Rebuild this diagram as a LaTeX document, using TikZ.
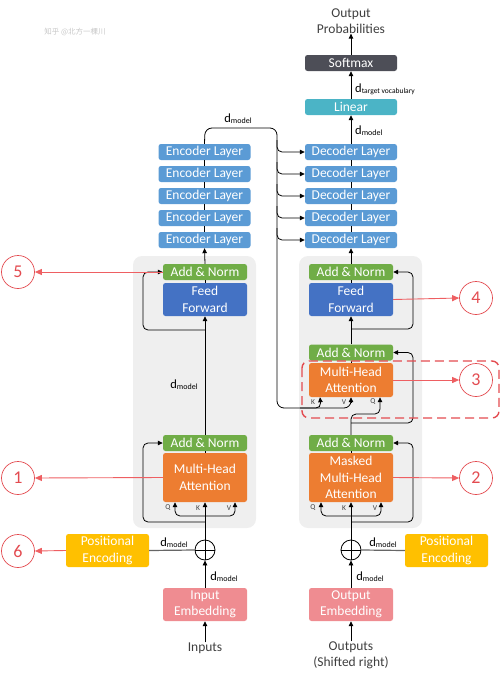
\documentclass[tikz,border=0pt]{standalone}
\usepackage{fontspec}
\setmainfont{Carlito}
\newfontfamily\cjkfont{Noto Sans CJK SC}
\usetikzlibrary{arrows.meta}
\definecolor{layerblue}{HTML}{5B9BD5}
\definecolor{addgreen}{HTML}{70AD47}
\definecolor{ffblue}{HTML}{4472C4}
\definecolor{mhaorange}{HTML}{ED7D31}
\definecolor{peyellow}{HTML}{FFC000}
\definecolor{embpink}{HTML}{EF8C91}
\definecolor{lineteal}{HTML}{4BB4C6}
\definecolor{smgray}{HTML}{4D4E57}
\definecolor{blockgray}{HTML}{EFEFEF}
\definecolor{markred}{HTML}{E34B50}
\definecolor{arrred}{HTML}{EE5F62}
\definecolor{txtgray}{HTML}{3F3F3F}
\newcommand{\dmod}{d{\fontsize{8}{9}\selectfont\raisebox{-1.3pt}{model}}}
\begin{document}
\begin{tikzpicture}[x=1pt,y=-1pt,
  box/.style={rounded corners=2.5pt, inner sep=0pt, text=white, font=\fontsize{13.5}{16.5}\selectfont, align=center},
  lay/.style={box, fill=layerblue, minimum width=92pt, minimum height=16pt},
  addn/.style={box, fill=addgreen, minimum width=84pt, minimum height=16pt},
  ffb/.style={box, fill=ffblue, minimum width=84pt, minimum height=33pt},
  mha/.style={box, fill=mhaorange, minimum width=84pt},
  peb/.style={box, fill=peyellow, minimum width=83pt, minimum height=33pt},
  emb/.style={box, fill=embpink, minimum width=84pt, minimum height=33pt},
  ln/.style={line width=0.8pt, black},
  arr/.style={ln, -{Triangle[length=5pt,width=4.5pt]}},
  redarr/.style={line width=0.9pt, arrred, -{Triangle[length=7pt,width=6pt]}},
  num/.style={circle, draw=markred, line width=0.7pt, minimum size=33pt, inner sep=0pt, text=markred, font=\fontsize{18}{19}\selectfont},
  lbl/.style={inner sep=0pt, font=\fontsize{12.5}{13}\selectfont, text=black},
  qkv/.style={inner sep=0pt, font=\fontsize{7.5}{8}\selectfont, text=txtgray},
  plain/.style={inner sep=0pt, font=\fontsize{13.5}{16}\selectfont, text=txtgray, align=center}
]
\useasboundingbox (0,0) rectangle (501,680);

% watermark
\node[inner sep=0pt, text=black!22, font=\cjkfont\fontsize{7.5}{8}\selectfont] (wm) at (75,32) {知乎 @北方一棵川};

% grey blocks
\fill[blockgray, rounded corners=9pt] (133,256) rectangle (256,528);
\fill[blockgray, rounded corners=9pt] (299,256) rectangle (422,528);

% ---------- encoder stack ----------
\node[lay] (e1) at (204.5,152) {Encoder Layer};
\node[lay] (e2) at (204.5,174) {Encoder Layer};
\node[lay] (e3) at (204.5,196) {Encoder Layer};
\node[lay] (e4) at (204.5,218) {Encoder Layer};
\node[lay] (e5) at (204.5,240) {Encoder Layer};
\draw[ln] (e2.north) -- (e1.south);
\draw[ln] (e3.north) -- (e2.south);
\draw[ln] (e4.north) -- (e3.south);
\draw[ln] (e5.north) -- (e4.south);

% ---------- decoder stack ----------
\node[lay] (d1) at (351,152) {Decoder Layer};
\node[lay] (d2) at (351,174) {Decoder Layer};
\node[lay] (d3) at (351,196) {Decoder Layer};
\node[lay] (d4) at (351,218) {Decoder Layer};
\node[lay] (d5) at (351,240) {Decoder Layer};
\draw[ln] (d2.north) -- (d1.south);
\draw[ln] (d3.north) -- (d2.south);
\draw[ln] (d4.north) -- (d3.south);
\draw[ln] (d5.north) -- (d4.south);

% ---------- top ----------
\node[box, fill=lineteal, minimum width=92pt, minimum height=16pt] (lin) at (351,107) {Linear};
\node[box, fill=smgray, minimum width=92pt, minimum height=16pt] (sm) at (351,63) {Softmax};
\node[plain] (outp) at (351,21) {Output\\Probabilities};
\draw[arr] (d1.north) -- (lin.south);
\draw[arr] (lin.north) -- (sm.south);
\draw[arr] (sm.north) -- (outp.south);
\node[lbl, anchor=west] (ldm1) at (355,131) {\dmod};
\node[lbl, anchor=west] (ldtv) at (355,89) {d{\fontsize{7.5}{8}\selectfont\raisebox{-1.3pt}{target vocabulary}}};

% ---------- encoder block ----------
\node[addn] (ean1) at (205,272) {Add \& Norm};
\node[ffb] (eff) at (205,299.5) {Feed\\Forward};
\node[addn] (ean2) at (205,443) {Add \& Norm};
\node[mha, minimum height=49pt] (emha) at (205,477.5) {Multi-Head\\Attention};
\draw[ln] (eff.north) -- (ean1.south);
\draw[ln] (emha.north) -- (ean2.south);
\draw[arr] (ean2.north) -- (eff.south);
\draw[arr] (ean1.north) -- (e5.south);
\draw[arr, rounded corners=5pt] (205,330) -- (143,330) -- (143,272) -- (ean1.west);
\node[lbl] (ldm2) at (184,385) {\dmod};

% encoder input
\node[circle, draw, line width=0.8pt, minimum size=20pt, inner sep=0pt] (eplus) at (205,550) {};
\draw[ln] (eplus.north) -- (eplus.south) (eplus.west) -- (eplus.east);
\node[emb] (eemb) at (205,604.5) {Input\\Embedding};
\node[peb] (epe) at (107.5,550.5) {Positional\\Encoding};
\node[plain] (inp) at (205,648) {Inputs};
\draw[arr] (inp.north) -- (eemb.south);
\draw[arr] (eemb.north) -- (eplus.south);
\draw[line width=1.2pt, black!60] (epe.east) -- (eplus.west);
\node[lbl] (ldm3) at (174,543) {\dmod};
\node[lbl] (ldm4) at (224,577) {\dmod};
\draw[arr] (eplus.north) -- (emha.south);
\draw[arr, rounded corners=5pt] (205,516) -- (175,516) -- ([xshift=-30pt]emha.south);
\draw[arr, rounded corners=5pt] (205,516) -- (235,516) -- ([xshift=30pt]emha.south);
\draw[arr, rounded corners=5pt] (205,522) -- (143,522) -- (143,443) -- (ean2.west);
\node[qkv] (eq) at (168,508) {Q};
\node[qkv] (ek) at (198,508) {K};
\node[qkv] (ev) at (229,508) {V};

% ---------- decoder block ----------
\node[addn] (dan1) at (351,272) {Add \& Norm};
\node[ffb] (dff) at (351,299.5) {Feed\\Forward};
\node[addn] (dan2) at (351,352.5) {Add \& Norm};
\node[mha, minimum height=34pt] (dmha) at (351,380) {Multi-Head\\Attention};
\node[addn] (dan3) at (351,443) {Add \& Norm};
\node[mha, minimum height=49pt] (dmmha) at (351,477.5) {Masked\\Multi-Head\\Attention};
\draw[ln] (dff.north) -- (dan1.south);
\draw[ln] (dmha.north) -- (dan2.south);
\draw[ln] (dmmha.north) -- (dan3.south);
\draw[arr] (dan1.north) -- (d5.south);
\draw[arr] (dan2.north) -- (dff.south);
\draw[arr, rounded corners=5pt] (351,329) -- (413,329) -- (413,272) -- (dan1.east);
\draw[arr, rounded corners=5pt] (dan3.north) -- (351,414) -- (380,414) -- ([xshift=29pt]dmha.south);
\draw[arr, rounded corners=5pt] (351,423) -- (413,423) -- (413,352.5) -- (dan2.east);
\node[qkv] (dk1) at (313,402) {K};
\node[qkv] (dv1) at (344,402) {V};
\node[qkv] (dq1) at (373,402) {Q};

% decoder input
\node[circle, draw, line width=0.8pt, minimum size=20pt, inner sep=0pt] (dplus) at (351,550) {};
\draw[ln] (dplus.north) -- (dplus.south) (dplus.west) -- (dplus.east);
\node[emb] (demb) at (351,604.5) {Output\\Embedding};
\node[peb] (dpe) at (446.5,550.5) {Positional\\Encoding};
\node[plain] (outs) at (351,655) {Outputs\\(Shifted right)};
\draw[arr] (outs.north) -- (demb.south);
\draw[arr] (demb.north) -- (dplus.south);
\draw[line width=1.2pt, black!60] (dpe.west) -- (dplus.east);
\node[lbl] (ldm5) at (383,543) {\dmod};
\node[lbl] (ldm6) at (370,577) {\dmod};
\draw[arr] (dplus.north) -- (dmmha.south);
\draw[arr, rounded corners=5pt] (351,516) -- (321,516) -- ([xshift=-30pt]dmmha.south);
\draw[arr, rounded corners=5pt] (351,516) -- (381,516) -- ([xshift=30pt]dmmha.south);
\draw[arr, rounded corners=5pt] (351,522) -- (413,522) -- (413,443) -- (dan3.east);
\node[qkv] (dq2) at (313,508) {Q};
\node[qkv] (dk2) at (344,508) {K};
\node[qkv] (dv2) at (375,508) {V};

% ---------- encoder output bus ----------
\coordinate (busTop) at (277,128);
\draw[ln, rounded corners=7pt] (e1.north) -- (205,128) -- (busTop) -- (277,408) -- (351,408) -- (351,402);
\draw[arr] (351,403) -- (dmha.south);
\draw[arr, rounded corners=5pt] (300,408) -- (321,408) -- ([xshift=-31pt]dmha.south);
\node[lbl] (ldm0) at (238,119) {\dmod};
\draw[arr, rounded corners=5pt] (277,140) |- (d1.west);
\draw[arr, rounded corners=5pt] (277,162) |- (d2.west);
\draw[arr, rounded corners=5pt] (277,184) |- (d3.west);
\draw[arr, rounded corners=5pt] (277,206) |- (d4.west);
\draw[arr, rounded corners=5pt] (277,228) |- (d5.west);

% ---------- dashed highlight ----------
\draw[markred, line width=1.4pt, dash pattern=on 9pt off 5pt, rounded corners=7pt] (302,361) rectangle (499,418);

% ---------- numbered markers ----------
\node[num] (c5) at (18,272) {5};
\node[num] (c1) at (18,478) {1};
\node[num] (c6) at (18,551) {6};
\node[num] (c4) at (476,298) {4};
\node[num] (c3) at (476,380) {3};
\node[num] (c2) at (476,478) {2};
\draw[redarr] (ean1.west) -- (c5.east);
\draw[redarr] (emha.west) -- (c1.east);
\draw[redarr] (epe.west) -- (c6.east);
\draw[redarr] (dff.east) -- (c4.west);
\draw[redarr] (dmha.east) -- (c3.west);
\draw[redarr] (dmmha.east) -- (c2.west);
\end{tikzpicture}
\end{document}
